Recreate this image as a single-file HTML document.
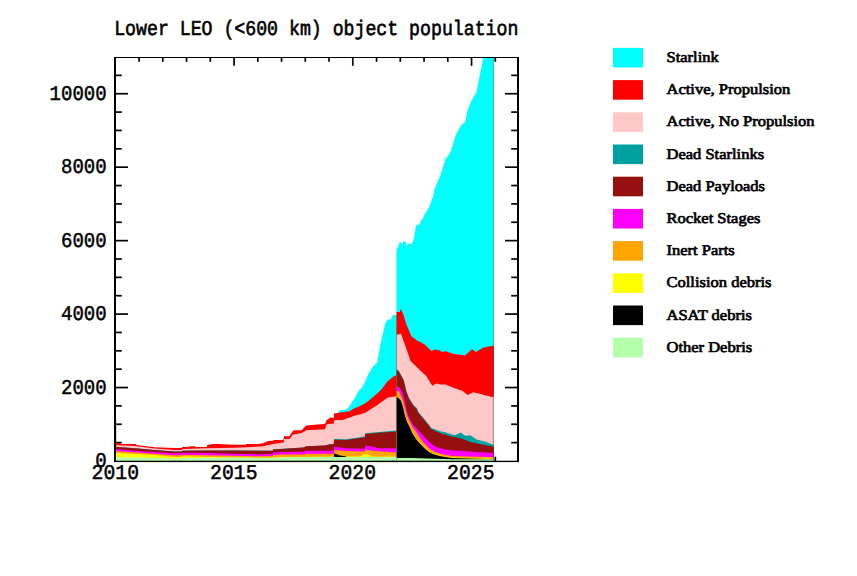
<!DOCTYPE html>
<html><head><meta charset="utf-8"><style>
html,body{margin:0;padding:0;background:#fff;width:857px;height:576px;overflow:hidden}
svg{display:block}
text{font-family:"Liberation Mono",monospace;font-weight:normal;fill:#000;stroke:#000;stroke-width:1.7px;text-rendering:geometricPrecision}
.lg{font-family:"Liberation Serif",serif;font-size:16.5px;font-weight:normal;stroke:#000;stroke-width:0.75px}
</style></head><body>
<svg width="857" height="576" viewBox="0 0 857 576">
<rect width="857" height="576" fill="#fff"/>
<g stroke="#000" stroke-width="1.7">
<line x1="114" y1="442.64" x2="121.80" y2="442.64"/>
<line x1="519" y1="442.64" x2="511.20" y2="442.64"/>
<line x1="114" y1="424.27" x2="121.80" y2="424.27"/>
<line x1="519" y1="424.27" x2="511.20" y2="424.27"/>
<line x1="114" y1="405.91" x2="121.80" y2="405.91"/>
<line x1="519" y1="405.91" x2="511.20" y2="405.91"/>
<line x1="114" y1="387.55" x2="128.00" y2="387.55"/>
<line x1="519" y1="387.55" x2="505.00" y2="387.55"/>
<line x1="114" y1="369.18" x2="121.80" y2="369.18"/>
<line x1="519" y1="369.18" x2="511.20" y2="369.18"/>
<line x1="114" y1="350.82" x2="121.80" y2="350.82"/>
<line x1="519" y1="350.82" x2="511.20" y2="350.82"/>
<line x1="114" y1="332.45" x2="121.80" y2="332.45"/>
<line x1="519" y1="332.45" x2="511.20" y2="332.45"/>
<line x1="114" y1="314.09" x2="128.00" y2="314.09"/>
<line x1="519" y1="314.09" x2="505.00" y2="314.09"/>
<line x1="114" y1="295.73" x2="121.80" y2="295.73"/>
<line x1="519" y1="295.73" x2="511.20" y2="295.73"/>
<line x1="114" y1="277.36" x2="121.80" y2="277.36"/>
<line x1="519" y1="277.36" x2="511.20" y2="277.36"/>
<line x1="114" y1="259.00" x2="121.80" y2="259.00"/>
<line x1="519" y1="259.00" x2="511.20" y2="259.00"/>
<line x1="114" y1="240.64" x2="128.00" y2="240.64"/>
<line x1="519" y1="240.64" x2="505.00" y2="240.64"/>
<line x1="114" y1="222.27" x2="121.80" y2="222.27"/>
<line x1="519" y1="222.27" x2="511.20" y2="222.27"/>
<line x1="114" y1="203.91" x2="121.80" y2="203.91"/>
<line x1="519" y1="203.91" x2="511.20" y2="203.91"/>
<line x1="114" y1="185.55" x2="121.80" y2="185.55"/>
<line x1="519" y1="185.55" x2="511.20" y2="185.55"/>
<line x1="114" y1="167.18" x2="128.00" y2="167.18"/>
<line x1="519" y1="167.18" x2="505.00" y2="167.18"/>
<line x1="114" y1="148.82" x2="121.80" y2="148.82"/>
<line x1="519" y1="148.82" x2="511.20" y2="148.82"/>
<line x1="114" y1="130.45" x2="121.80" y2="130.45"/>
<line x1="519" y1="130.45" x2="511.20" y2="130.45"/>
<line x1="114" y1="112.09" x2="121.80" y2="112.09"/>
<line x1="519" y1="112.09" x2="511.20" y2="112.09"/>
<line x1="114" y1="93.73" x2="128.00" y2="93.73"/>
<line x1="519" y1="93.73" x2="505.00" y2="93.73"/>
<line x1="114" y1="75.36" x2="121.80" y2="75.36"/>
<line x1="519" y1="75.36" x2="511.20" y2="75.36"/>
<line x1="139.05" y1="57" x2="139.05" y2="61.80"/>
<line x1="139.05" y1="461.5" x2="139.05" y2="456.70"/>
<line x1="162.80" y1="57" x2="162.80" y2="61.80"/>
<line x1="162.80" y1="461.5" x2="162.80" y2="456.70"/>
<line x1="186.55" y1="57" x2="186.55" y2="61.80"/>
<line x1="186.55" y1="461.5" x2="186.55" y2="456.70"/>
<line x1="210.30" y1="57" x2="210.30" y2="61.80"/>
<line x1="210.30" y1="461.5" x2="210.30" y2="456.70"/>
<line x1="234.05" y1="57" x2="234.05" y2="65.80"/>
<line x1="234.05" y1="461.5" x2="234.05" y2="452.70"/>
<line x1="257.80" y1="57" x2="257.80" y2="61.80"/>
<line x1="257.80" y1="461.5" x2="257.80" y2="456.70"/>
<line x1="281.55" y1="57" x2="281.55" y2="61.80"/>
<line x1="281.55" y1="461.5" x2="281.55" y2="456.70"/>
<line x1="305.30" y1="57" x2="305.30" y2="61.80"/>
<line x1="305.30" y1="461.5" x2="305.30" y2="456.70"/>
<line x1="329.05" y1="57" x2="329.05" y2="61.80"/>
<line x1="329.05" y1="461.5" x2="329.05" y2="456.70"/>
<line x1="352.80" y1="57" x2="352.80" y2="65.80"/>
<line x1="352.80" y1="461.5" x2="352.80" y2="452.70"/>
<line x1="376.55" y1="57" x2="376.55" y2="61.80"/>
<line x1="376.55" y1="461.5" x2="376.55" y2="456.70"/>
<line x1="400.30" y1="57" x2="400.30" y2="61.80"/>
<line x1="400.30" y1="461.5" x2="400.30" y2="456.70"/>
<line x1="424.05" y1="57" x2="424.05" y2="61.80"/>
<line x1="424.05" y1="461.5" x2="424.05" y2="456.70"/>
<line x1="447.80" y1="57" x2="447.80" y2="61.80"/>
<line x1="447.80" y1="461.5" x2="447.80" y2="456.70"/>
<line x1="471.55" y1="57" x2="471.55" y2="65.80"/>
<line x1="471.55" y1="461.5" x2="471.55" y2="452.70"/>
<line x1="495.30" y1="57" x2="495.30" y2="61.80"/>
<line x1="495.30" y1="461.5" x2="495.30" y2="456.70"/>
</g>
<g>
<path fill="#00ffff" d="M336.0,461.0 L336.0,415.0 L336.7,413.9 L340.2,410.0 L345.0,410.0 L348.4,407.8 L354.5,398.2 L355.6,397.0 L357.1,393.0 L362.2,387.0 L364.2,383.8 L367.2,377.0 L369.5,372.0 L373.8,365.5 L377.3,362.4 L379.9,346.8 L385.0,324.3 L387.2,320.0 L391.4,319.0 L392.2,315.8 L394.3,315.0 L396.5,314.7 L396.5,251.0 L396.8,249.0 L398.0,247.0 L399.8,242.0 L401.0,242.5 L402.3,244.0 L402.7,244.0 L403.0,241.0 L405.6,242.0 L406.8,246.0 L408.0,244.0 L411.7,243.4 L413.5,240.0 L416.0,225.8 L419.5,224.0 L424.7,214.5 L429.0,207.6 L433.4,195.5 L434.3,189.4 L440.3,175.5 L445.5,159.0 L449.9,153.0 L451.3,150.0 L454.2,140.0 L456.5,133.2 L461.7,124.5 L465.1,122.0 L467.7,109.8 L471.2,101.1 L476.4,92.5 L478.1,83.8 L480.7,70.8 L483.3,57.8 L483.5,57.0 L493.8,57.0 L493.8,461.0 Z"/>
<path fill="#ff0000" d="M115.0,461.0 L115.0,443.0 L120.0,443.0 L120.5,444.0 L135.7,444.0 L136.5,444.9 L154.6,447.3 L174.0,448.1 L181.9,448.1 L182.0,447.0 L189.0,447.0 L190.0,446.0 L192.0,446.5 L194.0,446.0 L196.0,447.0 L206.9,447.0 L207.0,445.2 L213.0,444.1 L219.0,444.1 L234.0,444.8 L246.0,444.8 L246.1,444.0 L258.0,444.0 L263.0,443.3 L268.3,441.1 L273.0,440.8 L274.0,440.0 L282.0,440.0 L283.7,439.4 L284.0,436.2 L289.6,436.2 L290.3,434.8 L293.1,430.7 L293.8,430.3 L302.0,430.3 L302.8,429.0 L306.3,425.4 L317.5,424.5 L325.0,424.1 L326.7,420.0 L331.0,417.3 L333.7,418.2 L334.1,413.4 L340.6,412.6 L349.3,411.3 L355.4,407.8 L358.0,407.0 L364.9,403.4 L369.0,400.4 L378.1,392.8 L382.2,388.6 L387.8,381.0 L389.9,379.6 L394.0,376.1 L396.5,375.4 L396.5,312.0 L399.8,312.0 L400.6,309.0 L401.8,311.0 L403.7,315.6 L406.3,324.3 L411.5,336.4 L417.5,340.7 L424.5,344.2 L431.4,351.1 L434.9,349.4 L440.0,350.6 L441.8,352.0 L445.6,351.3 L453.9,354.0 L465.0,355.4 L472.0,349.2 L476.1,352.0 L483.0,347.8 L488.6,346.4 L493.8,345.7 L493.8,461.0 Z"/>
<path fill="#ffc8c8" d="M115.0,461.0 L115.0,445.2 L135.0,446.0 L154.6,448.5 L174.0,450.0 L181.9,450.0 L182.0,448.9 L207.0,448.3 L234.0,447.8 L246.0,447.2 L258.0,446.7 L263.0,446.3 L273.0,443.9 L282.0,442.8 L283.7,442.5 L284.0,439.0 L289.6,439.0 L293.1,434.5 L302.0,433.1 L306.0,430.3 L325.0,429.3 L326.7,424.3 L333.7,423.4 L334.5,420.0 L342.4,420.0 L355.4,415.6 L364.9,413.0 L371.0,408.9 L377.4,405.0 L387.8,397.6 L396.5,396.2 L396.5,334.7 L401.0,333.8 L405.4,346.0 L410.6,361.0 L419.3,369.5 L426.2,376.0 L432.3,385.8 L436.6,383.2 L440.0,384.6 L445.6,384.6 L453.9,388.0 L462.2,390.8 L467.8,395.0 L473.3,392.2 L481.7,394.3 L491.4,397.1 L493.8,396.4 L493.8,461.0 Z"/>
<path fill="#00a0a0" d="M115.0,461.0 L115.0,446.7 L138.0,448.4 L154.6,449.9 L174.0,451.4 L181.9,451.4 L182.0,450.6 L207.0,450.5 L234.0,450.4 L272.9,450.7 L273.0,449.3 L282.0,448.8 L303.6,447.5 L306.3,446.2 L325.0,445.4 L330.0,444.2 L333.7,444.2 L334.1,439.0 L346.3,439.3 L364.9,436.5 L365.1,433.2 L379.0,432.0 L396.5,430.6 L396.5,369.3 L398.5,370.2 L401.9,376.3 L403.8,380.0 L406.4,390.9 L409.0,397.7 L411.6,401.9 L413.5,405.0 L416.8,408.1 L418.2,411.8 L423.4,418.0 L428.6,424.3 L431.3,428.0 L440.2,431.3 L446.3,432.6 L454.6,435.2 L460.8,432.6 L465.0,435.7 L470.2,435.2 L476.5,439.4 L484.8,441.5 L493.8,445.1 L493.8,461.0 Z"/>
<path fill="#961010" d="M115.0,461.0 L115.0,446.8 L138.0,448.5 L154.6,450.0 L174.0,451.5 L181.9,451.5 L182.0,450.7 L207.0,450.6 L234.0,450.5 L272.9,450.8 L273.0,449.4 L282.0,448.9 L303.6,447.6 L306.3,446.3 L325.0,445.5 L330.0,444.3 L333.7,444.3 L334.1,439.7 L346.3,440.1 L364.9,437.3 L365.1,434.0 L379.0,432.8 L396.5,431.5 L396.5,370.3 L398.5,371.2 L401.9,377.3 L403.8,381.0 L406.4,391.9 L409.0,398.7 L411.6,402.9 L413.5,406.0 L416.8,409.1 L418.2,412.8 L423.4,419.0 L428.6,425.3 L431.3,429.3 L440.0,433.1 L450.4,436.3 L460.8,438.3 L470.2,442.0 L481.7,444.6 L493.8,446.7 L493.8,461.0 Z"/>
<path fill="#ff00ff" d="M115.0,461.0 L115.0,449.1 L138.0,451.0 L154.6,452.0 L174.0,453.2 L181.9,453.2 L182.0,452.8 L207.0,453.0 L234.0,453.7 L258.0,454.4 L272.9,453.7 L273.0,452.4 L282.0,452.0 L304.5,451.8 L305.4,450.7 L325.0,450.7 L333.9,450.4 L334.1,446.7 L346.3,448.3 L364.9,448.7 L365.1,445.8 L370.8,446.2 L379.0,448.3 L396.5,448.3 L396.5,386.3 L399.1,387.3 L401.2,390.4 L403.8,397.0 L404.9,403.0 L407.0,411.3 L409.1,417.5 L412.0,423.2 L416.1,427.8 L420.6,432.9 L425.9,438.6 L431.4,444.1 L436.3,446.9 L443.2,449.0 L452.0,450.4 L460.8,450.8 L476.5,451.9 L493.8,452.9 L493.8,461.0 Z"/>
<path fill="#ffa500" d="M115.0,461.0 L115.0,451.0 L138.0,452.5 L154.6,453.8 L174.0,455.2 L181.9,455.2 L182.0,454.8 L207.0,455.3 L234.0,455.8 L258.0,456.3 L272.9,456.0 L273.0,454.9 L282.0,454.5 L304.5,454.5 L306.3,453.7 L333.9,453.7 L334.1,449.9 L346.3,451.1 L364.9,451.5 L365.1,449.5 L372.5,450.7 L396.5,452.4 L396.5,390.9 L399.1,391.2 L400.5,394.5 L402.9,400.2 L404.9,407.8 L407.0,415.4 L409.1,420.3 L412.0,426.3 L416.1,431.8 L420.3,438.6 L424.5,443.4 L430.0,449.0 L434.9,451.8 L441.2,453.9 L452.0,456.0 L460.8,456.2 L476.5,456.8 L493.8,457.1 L493.8,461.0 Z"/>
<path fill="#ffff00" d="M115.0,461.0 L115.0,453.1 L138.0,453.9 L154.6,455.1 L174.0,456.9 L181.9,456.9 L182.0,456.1 L207.0,456.9 L234.0,457.4 L258.0,457.8 L272.9,457.8 L273.0,457.5 L282.0,457.0 L334.0,456.5 L360.0,456.5 L365.1,453.6 L373.3,456.5 L396.5,456.7 L396.5,396.8 L398.0,397.0 L400.8,399.8 L402.9,405.9 L404.9,414.9 L407.0,421.2 L409.8,426.8 L412.0,432.0 L416.2,438.8 L420.3,443.6 L424.5,447.8 L428.7,451.3 L432.8,453.4 L439.8,455.5 L452.0,457.5 L493.8,458.7 L493.8,461.0 Z"/>
<path fill="#000000" d="M396.5,461.0 L396.5,397.2 L398.0,397.4 L400.8,400.2 L402.9,406.4 L404.9,415.4 L407.0,421.7 L409.8,427.2 L412.0,432.5 L416.2,439.3 L420.3,444.1 L424.5,448.3 L428.7,451.8 L432.8,453.9 L439.8,456.0 L452.0,458.0 L493.8,459.2 L493.8,461.0 Z"/>
<path fill="#000000" d="M334.1,461.0 L334.1,453.2 L340.0,455.5 L346.3,456.5 L346.4,461.0 L346.4,461.0 Z"/>
<path fill="#b4ffaa" d="M115.0,461.0 L115.0,457.2 L138.0,457.4 L174.0,458.5 L181.9,458.5 L182.0,458.0 L234.0,457.6 L272.9,458.0 L273.0,457.7 L282.0,457.2 L306.0,457.2 L325.0,457.0 L396.5,456.9 L396.5,458.0 L412.0,458.0 L452.0,459.2 L493.8,459.3 L493.8,461.0 Z"/>
</g>
<line x1="396.5" y1="315" x2="396.5" y2="461" stroke="#806040" stroke-opacity="0.45" stroke-width="1"/>
<line x1="493.3" y1="57" x2="493.3" y2="461" stroke="#600000" stroke-opacity="0.3" stroke-width="1"/>
<line x1="116.3" y1="420" x2="116.3" y2="443" stroke="#b08060" stroke-opacity="0.6" stroke-width="0.8"/>
<g fill="#000" shape-rendering="crispEdges"><rect x="114" y="57" width="405" height="1"/><rect x="114" y="57" width="2" height="405"/><rect x="517" y="57" width="2" height="405"/><rect x="114" y="460.7" width="405" height="1.4" shape-rendering="auto"/></g>
<text transform="translate(114.20,35.20) scale(0.2487,0.2875)" style="font-size:73.20px;text-anchor:start;stroke-width:2.2px">Lower LEO (&lt;600 km) object population</text>
<text transform="translate(106.70,467.30) scale(0.2600,0.2875)" style="font-size:73.20px;text-anchor:end;">0</text>
<text transform="translate(106.70,393.85) scale(0.2600,0.2875)" style="font-size:73.20px;text-anchor:end;">2000</text>
<text transform="translate(106.70,320.39) scale(0.2600,0.2875)" style="font-size:73.20px;text-anchor:end;">4000</text>
<text transform="translate(106.70,246.94) scale(0.2600,0.2875)" style="font-size:73.20px;text-anchor:end;">6000</text>
<text transform="translate(106.70,173.48) scale(0.2600,0.2875)" style="font-size:73.20px;text-anchor:end;">8000</text>
<text transform="translate(106.70,100.03) scale(0.2600,0.2875)" style="font-size:73.20px;text-anchor:end;">10000</text>
<text transform="translate(115.30,479.30) scale(0.2700,0.2875)" style="font-size:73.20px;text-anchor:middle;">2010</text>
<text transform="translate(233.80,479.30) scale(0.2700,0.2875)" style="font-size:73.20px;text-anchor:middle;">2015</text>
<text transform="translate(352.30,479.30) scale(0.2700,0.2875)" style="font-size:73.20px;text-anchor:middle;">2020</text>
<text transform="translate(470.80,479.30) scale(0.2700,0.2875)" style="font-size:73.20px;text-anchor:middle;">2025</text>
<rect x="613" y="47.9" width="30" height="19.6" fill="#00ffff"/>
<text transform="translate(666.5,62.00) scale(1,0.9)" class="lg">Starlink</text>
<rect x="613" y="80.1" width="30" height="19.6" fill="#ff0000"/>
<text transform="translate(666.5,94.20) scale(1,0.9)" class="lg">Active, Propulsion</text>
<rect x="613" y="112.3" width="30" height="19.6" fill="#ffc8c8"/>
<text transform="translate(666.5,126.40) scale(1,0.9)" class="lg">Active, No Propulsion</text>
<rect x="613" y="144.5" width="30" height="19.6" fill="#00a0a0"/>
<text transform="translate(666.5,158.60) scale(1,0.9)" class="lg">Dead Starlinks</text>
<rect x="613" y="176.7" width="30" height="19.6" fill="#961010"/>
<text transform="translate(666.5,190.80) scale(1,0.9)" class="lg">Dead Payloads</text>
<rect x="613" y="208.9" width="30" height="19.6" fill="#ff00ff"/>
<text transform="translate(666.5,223.00) scale(1,0.9)" class="lg">Rocket Stages</text>
<rect x="613" y="241.1" width="30" height="19.6" fill="#ffa500"/>
<text transform="translate(666.5,255.20) scale(1,0.9)" class="lg">Inert Parts</text>
<rect x="613" y="273.3" width="30" height="19.6" fill="#ffff00"/>
<text transform="translate(666.5,287.40) scale(1,0.9)" class="lg">Collision debris</text>
<rect x="613" y="305.5" width="30" height="19.6" fill="#000000"/>
<text transform="translate(666.5,319.60) scale(1,0.9)" class="lg">ASAT debris</text>
<rect x="613" y="337.7" width="30" height="19.6" fill="#b4ffaa"/>
<text transform="translate(666.5,351.80) scale(1,0.9)" class="lg">Other Debris</text>
</svg>
</body></html>
